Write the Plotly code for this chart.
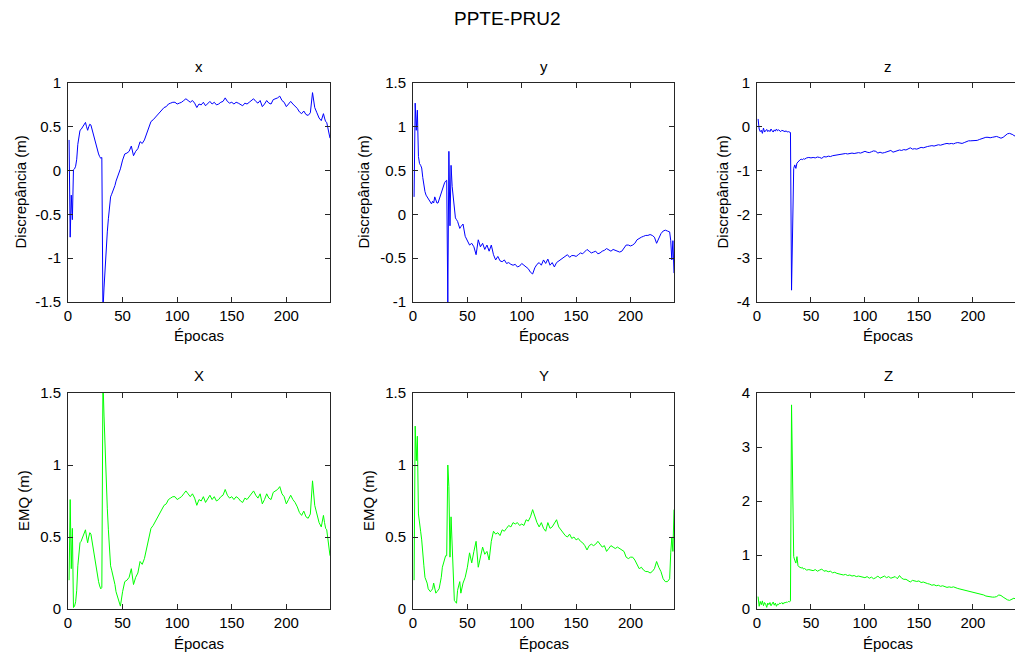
import plotly.graph_objects as go

# ---------------- data ----------------
epochs = list(range(1, 45)) + list(range(46, 235, 2)) + list(range(235, 241))

disc_x = [
    0.35, -0.76, -0.28, -0.56, 0.01, 0.02, 0.05, 0.13, 0.30, 0.40,
    0.46, 0.47, 0.49, 0.50, 0.52, 0.55, 0.50, 0.46, 0.50, 0.53,
    0.52, 0.47, 0.43, 0.40, 0.35, 0.30, 0.24, 0.19, 0.16, 0.14,
    0.15, -1.60, -1.34, -1.10, -0.85, -0.70, -0.55, -0.40, -0.30, -0.27,
    -0.24, -0.20, -0.17, -0.12, -0.06, 0.02, 0.12, 0.19, 0.20, 0.22,
    0.28, 0.17, 0.22, 0.25, 0.33, 0.31, 0.35, 0.42, 0.51, 0.56,
    0.58, 0.61, 0.63, 0.66, 0.70, 0.72, 0.73, 0.76, 0.77, 0.78,
    0.78, 0.76, 0.77, 0.78, 0.80, 0.82, 0.80, 0.78, 0.80, 0.77,
    0.72, 0.76, 0.75, 0.78, 0.74, 0.77, 0.79, 0.76, 0.78, 0.75,
    0.76, 0.78, 0.79, 0.83, 0.79, 0.77, 0.78, 0.76, 0.78, 0.77,
    0.75, 0.74, 0.77, 0.76, 0.78, 0.80, 0.82, 0.79, 0.77, 0.80,
    0.73, 0.76, 0.80, 0.77, 0.76, 0.81, 0.82, 0.83, 0.85, 0.80,
    0.78, 0.73, 0.76, 0.79, 0.76, 0.74, 0.71, 0.67, 0.65, 0.68,
    0.64, 0.63, 0.66, 0.89, 0.72, 0.66, 0.60, 0.57, 0.65, 0.60,
    0.56, 0.55, 0.50, 0.45, 0.37,
]

disc_y = [
    0.20, 1.27, 0.96, 1.19, 0.66, 0.58, 0.56, 0.53, 0.42, 0.30,
    0.26, 0.22, 0.20, 0.18, 0.15, 0.13, 0.12, 0.15, 0.13, 0.20,
    0.15, 0.13, 0.13, 0.17, 0.19, 0.23, 0.27, 0.31, 0.36, 0.38,
    0.39, -1.00, 0.72, -0.13, 0.56, 0.32, 0.17, 0.01, -0.04, -0.06,
    -0.08, -0.12, -0.16, -0.14, -0.11, -0.25, -0.30, -0.35, -0.33, -0.37,
    -0.46, -0.29, -0.37, -0.33, -0.40, -0.35, -0.42, -0.35, -0.46, -0.52,
    -0.48, -0.53, -0.54, -0.52, -0.56, -0.55, -0.57, -0.58, -0.57, -0.60,
    -0.59, -0.56, -0.58, -0.60, -0.62, -0.66, -0.68, -0.61, -0.57, -0.55,
    -0.58, -0.52, -0.56, -0.51, -0.58, -0.55, -0.60, -0.55, -0.53, -0.52,
    -0.50, -0.48, -0.46, -0.49, -0.47, -0.47, -0.48, -0.46, -0.44, -0.45,
    -0.43, -0.40, -0.42, -0.44, -0.43, -0.42, -0.45, -0.44, -0.42, -0.41,
    -0.39, -0.41, -0.42, -0.40, -0.41, -0.42, -0.43, -0.42, -0.38, -0.35,
    -0.35, -0.36, -0.35, -0.33, -0.29, -0.27, -0.26, -0.25, -0.24, -0.24,
    -0.23, -0.24, -0.26, -0.33, -0.27, -0.22, -0.19, -0.18, -0.19, -0.20,
    -0.20, -0.30, -0.52, -0.30, -0.67,
]

disc_z = [
    0.18, -0.05, -0.11, -0.08, -0.15, -0.03, -0.12, -0.09, -0.06, -0.11,
    -0.08, -0.11, -0.05, -0.09, -0.12, -0.07, -0.10, -0.05, -0.09, -0.07,
    -0.10, -0.11, -0.08, -0.09, -0.10, -0.11, -0.09, -0.12, -0.11, -0.13,
    -0.13, -3.73, -2.36, -0.95, -0.87, -0.95, -0.83, -0.80, -0.76, -0.75,
    -0.74, -0.75, -0.73, -0.74, -0.71, -0.70, -0.71, -0.70, -0.71, -0.69,
    -0.70, -0.72, -0.68, -0.69, -0.67, -0.68, -0.66, -0.65, -0.64, -0.64,
    -0.63, -0.62, -0.61, -0.62, -0.61, -0.60, -0.61, -0.60, -0.59, -0.60,
    -0.58, -0.56, -0.58, -0.59, -0.57, -0.55, -0.56, -0.60, -0.58, -0.60,
    -0.59, -0.57, -0.56, -0.54, -0.58, -0.56, -0.55, -0.53, -0.54, -0.52,
    -0.53, -0.51, -0.48, -0.51, -0.50, -0.51, -0.49, -0.47, -0.48, -0.46,
    -0.45, -0.44, -0.43, -0.44, -0.42, -0.41, -0.42, -0.40, -0.39, -0.38,
    -0.39, -0.38, -0.39, -0.37, -0.36, -0.37, -0.38, -0.36, -0.34, -0.32,
    -0.32, -0.32, -0.31, -0.31, -0.29, -0.27, -0.25, -0.24, -0.24, -0.25,
    -0.24, -0.23, -0.22, -0.24, -0.26, -0.24, -0.20, -0.16, -0.15, -0.16,
    -0.16, -0.18, -0.20, -0.21, -0.22,
]

emq_x = [
    0.20, 0.76, 0.28, 0.56, 0.01, 0.02, 0.05, 0.13, 0.30, 0.40,
    0.46, 0.47, 0.49, 0.50, 0.52, 0.55, 0.50, 0.46, 0.50, 0.53,
    0.52, 0.47, 0.43, 0.40, 0.35, 0.30, 0.24, 0.19, 0.16, 0.14,
    0.15, 1.60, 1.34, 1.10, 0.85, 0.70, 0.55, 0.40, 0.30, 0.27,
    0.24, 0.20, 0.17, 0.12, 0.06, 0.02, 0.12, 0.19, 0.20, 0.22,
    0.28, 0.17, 0.22, 0.25, 0.33, 0.31, 0.35, 0.42, 0.51, 0.56,
    0.58, 0.61, 0.63, 0.66, 0.70, 0.72, 0.73, 0.76, 0.77, 0.78,
    0.78, 0.76, 0.77, 0.78, 0.80, 0.82, 0.80, 0.78, 0.80, 0.77,
    0.72, 0.76, 0.75, 0.78, 0.74, 0.77, 0.79, 0.76, 0.78, 0.75,
    0.76, 0.78, 0.79, 0.83, 0.79, 0.77, 0.78, 0.76, 0.78, 0.77,
    0.75, 0.74, 0.77, 0.76, 0.78, 0.80, 0.82, 0.79, 0.77, 0.80,
    0.73, 0.76, 0.80, 0.77, 0.76, 0.81, 0.82, 0.83, 0.85, 0.80,
    0.78, 0.73, 0.76, 0.79, 0.76, 0.74, 0.71, 0.67, 0.65, 0.68,
    0.64, 0.63, 0.66, 0.89, 0.72, 0.66, 0.60, 0.57, 0.65, 0.60,
    0.56, 0.55, 0.50, 0.45, 0.37,
]

emq_y = [
    0.20, 1.27, 1.03, 1.20, 0.66, 0.57, 0.54, 0.48, 0.41, 0.30,
    0.22, 0.20, 0.18, 0.14, 0.13, 0.12, 0.13, 0.14, 0.18, 0.13,
    0.11, 0.12, 0.13, 0.14, 0.18, 0.22, 0.29, 0.32, 0.36, 0.37,
    0.37, 1.00, 0.85, 0.36, 0.64, 0.39, 0.20, 0.06, 0.05, 0.04,
    0.13, 0.16, 0.19, 0.11, 0.18, 0.22, 0.29, 0.39, 0.32, 0.40,
    0.47, 0.29, 0.36, 0.43, 0.38, 0.40, 0.34, 0.47, 0.54, 0.52,
    0.53, 0.51, 0.55, 0.54, 0.56, 0.58, 0.57, 0.60, 0.59, 0.60,
    0.58, 0.59, 0.58, 0.62, 0.61, 0.64, 0.69, 0.64, 0.60, 0.57,
    0.60, 0.56, 0.54, 0.60, 0.56, 0.57, 0.60, 0.62, 0.57, 0.55,
    0.53, 0.51, 0.50, 0.52, 0.49, 0.50, 0.48, 0.49, 0.47, 0.46,
    0.44, 0.41, 0.44, 0.45, 0.44, 0.45, 0.47, 0.45, 0.43, 0.44,
    0.40, 0.42, 0.44, 0.43, 0.42, 0.43, 0.42, 0.41, 0.40, 0.36,
    0.35, 0.36, 0.36, 0.34, 0.31, 0.28, 0.29, 0.27, 0.26, 0.26,
    0.25, 0.26, 0.28, 0.33, 0.29, 0.26, 0.21, 0.19, 0.19, 0.20,
    0.21, 0.39, 0.50, 0.40, 0.69,
]

emq_z = [
    0.23, 0.05, 0.14, 0.08, 0.15, 0.06, 0.12, 0.09, 0.03, 0.11,
    0.08, 0.12, 0.06, 0.10, 0.13, 0.07, 0.11, 0.05, 0.09, 0.08,
    0.11, 0.10, 0.12, 0.09, 0.12, 0.11, 0.13, 0.12, 0.14, 0.13,
    0.15, 3.78, 2.39, 0.97, 0.90, 0.85, 0.97, 0.80, 0.78, 0.77,
    0.76, 0.77, 0.74, 0.75, 0.72, 0.73, 0.72, 0.71, 0.73, 0.70,
    0.72, 0.74, 0.70, 0.71, 0.69, 0.70, 0.67, 0.68, 0.66, 0.65,
    0.64, 0.63, 0.64, 0.62, 0.63, 0.61, 0.62, 0.60, 0.61, 0.60,
    0.60, 0.58, 0.60, 0.57, 0.59, 0.56, 0.58, 0.61, 0.57, 0.59,
    0.61, 0.58, 0.60, 0.57, 0.59, 0.60, 0.56, 0.62, 0.57, 0.55,
    0.55, 0.53, 0.50, 0.53, 0.52, 0.51, 0.52, 0.49, 0.50, 0.48,
    0.47, 0.46, 0.44, 0.45, 0.43, 0.44, 0.42, 0.43, 0.41, 0.40,
    0.41, 0.40, 0.41, 0.39, 0.38, 0.37, 0.36, 0.35, 0.34, 0.33,
    0.33, 0.32, 0.31, 0.30, 0.29, 0.28, 0.26, 0.24, 0.23, 0.23,
    0.22, 0.22, 0.23, 0.26, 0.25, 0.22, 0.19, 0.17, 0.16, 0.17,
    0.18, 0.19, 0.20, 0.19, 0.20,
]

x_tickvals = [0, 50, 100, 150, 200]
x_ticktext = ["0", "50", "100", "150", "200"]

ytick_x = [-1.5, -1, -0.5, 0, 0.5, 1]
ytext_x = ["-1.5", "-1", "-0.5", "0", "0.5", "1"]
ytick_y = [-1, -0.5, 0, 0.5, 1, 1.5]
ytext_y = ["-1", "-0.5", "0", "0.5", "1", "1.5"]
ytick_z = [-4, -3, -2, -1, 0, 1]
ytext_z = ["-4", "-3", "-2", "-1", "0", "1"]
ytick_e = [0, 0.5, 1, 1.5]
ytext_e = ["0", "0.5", "1", "1.5"]
ytick_ez = [0, 1, 2, 3, 4]
ytext_ez = ["0", "1", "2", "3", "4"]

for s in (disc_x, disc_y, disc_z, emq_x, emq_y, emq_z):
    assert len(s) == len(epochs), (len(s), len(epochs))

# ---------------- layout helpers ----------------
W, H = 1015, 657
BLUE = "#0000FF"
GREEN = "#00FF00"
AX = "#262626"
FONT = "Liberation Sans, Arial, Helvetica, sans-serif"


def fx(px):
    return px / W


def fy(py):
    return 1 - py / H


cols = [(68, 330), (413, 674), (757, 1015)]
rows = [(83, 302), (393, 609)]

panels = [
    dict(y=disc_x, c=BLUE, t="x", yl="Discrepância (m)", r=0, k=0, yr=[-1.5, 1], tv=ytick_x, tt=ytext_x, ylx=20),
    dict(y=disc_y, c=BLUE, t="y", yl="Discrepância (m)", r=0, k=1, yr=[-1, 1.5], tv=ytick_y, tt=ytext_y, ylx=363),
    dict(y=disc_z, c=BLUE, t="z", yl="Discrepância (m)", r=0, k=2, yr=[-4, 1], tv=ytick_z, tt=ytext_z, ylx=722),
    dict(y=emq_x, c=GREEN, t="X", yl="EMQ (m)", r=1, k=0, yr=[0, 1.5], tv=ytick_e, tt=ytext_e, ylx=23),
    dict(y=emq_y, c=GREEN, t="Y", yl="EMQ (m)", r=1, k=1, yr=[0, 1.5], tv=ytick_e, tt=ytext_e, ylx=368),
    dict(y=emq_z, c=GREEN, t="Z", yl=None, r=1, k=2, yr=[0, 4], tv=ytick_ez, tt=ytext_ez, ylx=None),
]

fig = go.Figure()
layout = dict(
    width=W, height=H,
    margin=dict(l=0, r=0, t=0, b=0, pad=0, autoexpand=False),
    paper_bgcolor="white", plot_bgcolor="white",
    showlegend=False,
    font=dict(family=FONT, size=15, color="black"),
)
annotations = [
    dict(text="PPTE-PRU2", x=fx(507), y=fy(18), xref="paper", yref="paper",
         showarrow=False, xanchor="center", yanchor="middle",
         font=dict(family=FONT, size=19, color="black")),
]

for i, p in enumerate(panels, start=1):
    x0, x1 = cols[p["k"]]
    y0, y1 = rows[p["r"]]
    last_col = p["k"] == 2
    fig.add_trace(go.Scatter(
        x=epochs, y=p["y"], mode="lines",
        line=dict(color=p["c"], width=1),
        xaxis=f"x{i}", yaxis=f"y{i}", hoverinfo="skip",
    ))
    layout[f"xaxis{i}"] = dict(
        domain=[fx(x0), min(fx(x1), 1.0)],
        range=[0, 239] if last_col else [0, 240],
        anchor=f"y{i}",
        tickmode="array", tickvals=x_tickvals, ticktext=x_ticktext,
        ticks="inside", ticklen=5, tickcolor=AX, tickwidth=1,
        showline=True, linecolor=AX, linewidth=1, mirror="ticks",
        showgrid=False, zeroline=False, automargin=False,
        tickfont=dict(family=FONT, size=15, color="black"),
        fixedrange=True,
    )
    layout[f"yaxis{i}"] = dict(
        domain=[fy(y1), fy(y0)],
        range=p["yr"],
        anchor=f"x{i}",
        tickmode="array", tickvals=p["tv"], ticktext=p["tt"],
        ticks="inside", ticklen=5, tickcolor=AX, tickwidth=1,
        showline=True, linecolor=AX, linewidth=1,
        mirror=False if last_col else "ticks",
        showgrid=False, zeroline=False, automargin=False,
        tickfont=dict(family=FONT, size=15, color="black"),
        ticklabelstandoff=3,
        fixedrange=True,
    )
    cx = (x0 + (x0 + 262)) / 2
    ty = 67 if p["r"] == 0 else 375
    annotations.append(dict(text=p["t"], x=fx(cx), y=fy(ty), xref="paper", yref="paper",
                            showarrow=False, xanchor="center", yanchor="middle",
                            font=dict(family=FONT, size=15, color="black")))
    ey = 335 if p["r"] == 0 else 643
    annotations.append(dict(text="Épocas", x=fx(cx), y=fy(ey), xref="paper", yref="paper",
                            showarrow=False, xanchor="center", yanchor="middle",
                            font=dict(family=FONT, size=15, color="black")))
    if p["yl"]:
        annotations.append(dict(text=p["yl"], x=fx(p["ylx"]), y=fy((y0 + y1) / 2),
                                xref="paper", yref="paper", textangle=-90,
                                showarrow=False, xanchor="center", yanchor="middle",
                                font=dict(family=FONT, size=15, color="black")))

layout["annotations"] = annotations
fig.update_layout(**layout)
fig.write_html(
    "out.html",
    config={"displayModeBar": False},
    post_script="document.body.style.margin='0';document.body.style.overflow='hidden';",
)
